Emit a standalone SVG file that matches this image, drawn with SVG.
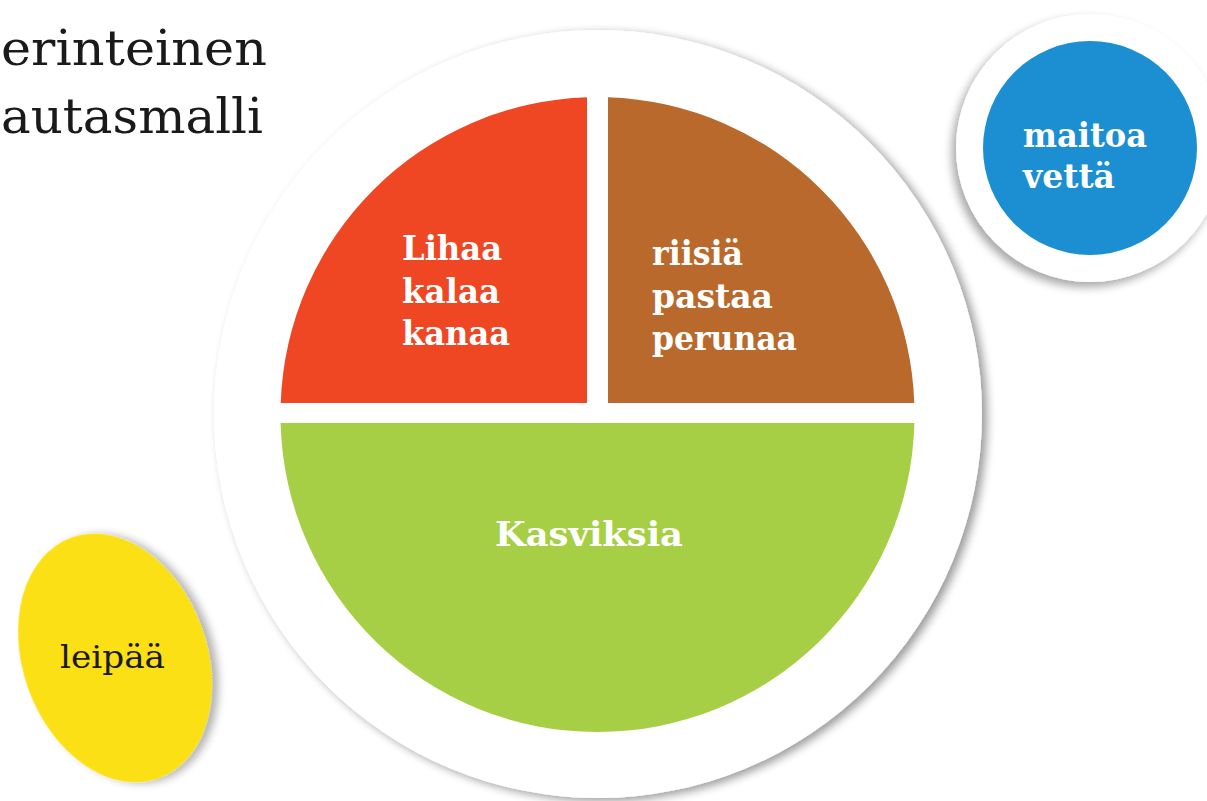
<svg xmlns="http://www.w3.org/2000/svg" width="1207" height="801" viewBox="0 0 1207 801">
  <defs>
    <filter id="shPlate" x="-10%" y="-10%" width="120%" height="120%">
      <feGaussianBlur in="SourceAlpha" stdDeviation="5"/>
      <feOffset dx="5" dy="3" result="b"/>
      <feComponentTransfer><feFuncA type="linear" slope="0.4"/></feComponentTransfer>
      <feMerge><feMergeNode/><feMergeNode in="SourceGraphic"/></feMerge>
    </filter>
    <filter id="shCup" x="-20%" y="-20%" width="140%" height="140%">
      <feGaussianBlur in="SourceAlpha" stdDeviation="5"/>
      <feOffset dx="-4" dy="5" result="b"/>
      <feComponentTransfer><feFuncA type="linear" slope="0.35"/></feComponentTransfer>
      <feMerge><feMergeNode/><feMergeNode in="SourceGraphic"/></feMerge>
    </filter>
    <filter id="shBread" x="-20%" y="-20%" width="140%" height="140%">
      <feGaussianBlur in="SourceAlpha" stdDeviation="4"/>
      <feOffset dx="6" dy="3" result="b"/>
      <feComponentTransfer><feFuncA type="linear" slope="0.3"/></feComponentTransfer>
      <feMerge><feMergeNode/><feMergeNode in="SourceGraphic"/></feMerge>
    </filter>
  </defs>
  <style>
    .title { font-family: "DejaVu Serif", "Liberation Serif", serif; font-size: 49px; fill: #1a1a1a; }
    .lbl { font-family: "DejaVu Serif", "Liberation Serif", serif; font-weight: bold; font-size: 33px; fill: #ffffff; }
    .dark { font-family: "DejaVu Serif", "Liberation Serif", serif; font-size: 31px; fill: #1a1a1a; }
  </style>
  <rect width="1207" height="801" fill="#ffffff"/>

  <g id="title">
    <text class="title" x="1" y="65" textLength="266" lengthAdjust="spacingAndGlyphs">erinteinen</text>
    <text class="title" x="1" y="133" textLength="262" lengthAdjust="spacingAndGlyphs">autasmalli</text>
  </g>

  <g id="plate">
    <circle cx="598" cy="414" r="384" fill="#ffffff" filter="url(#shPlate)"/>
  </g>

  <g id="meat">
    <path d="M280.7,403 A317,317 0 0 1 587,97.2 L587,403 Z" fill="#EF4623"/>
    <text class="lbl" x="402" y="260" textLength="100" lengthAdjust="spacingAndGlyphs">Lihaa</text>
    <text class="lbl" x="402" y="303" textLength="98" lengthAdjust="spacingAndGlyphs">kalaa</text>
    <text class="lbl" x="402" y="345" textLength="108" lengthAdjust="spacingAndGlyphs">kanaa</text>
  </g>

  <g id="carbs">
    <path d="M608,97.2 A317,317 0 0 1 914.3,403 L608,403 Z" fill="#B9692B"/>
    <text class="lbl" x="652" y="265" textLength="91" lengthAdjust="spacingAndGlyphs">riisiä</text>
    <text class="lbl" x="652" y="308" textLength="121" lengthAdjust="spacingAndGlyphs">pastaa</text>
    <text class="lbl" x="652" y="350" textLength="145" lengthAdjust="spacingAndGlyphs">perunaa</text>
  </g>

  <g id="vegetables">
    <path d="M280.6,423 L914.4,423 A317,317 0 0 1 280.6,423 Z" fill="#A6CF46"/>
    <text class="lbl" x="495" y="546" textLength="188" lengthAdjust="spacingAndGlyphs">Kasviksia</text>
  </g>

  <g id="drink">
    <circle cx="1090" cy="148" r="134" fill="#ffffff" filter="url(#shCup)"/>
    <circle cx="1090" cy="148" r="107" fill="#1C8FD2"/>
    <text class="lbl" x="1023" y="147" textLength="124" lengthAdjust="spacingAndGlyphs">maitoa</text>
    <text class="lbl" x="1023" y="188" textLength="92" lengthAdjust="spacingAndGlyphs">vettä</text>
  </g>

  <g id="bread">
    <ellipse cx="115" cy="658" rx="92" ry="128" transform="rotate(-20 115 658)" fill="#FCE012" filter="url(#shBread)"/>
    <text class="dark" x="60" y="668" textLength="105" lengthAdjust="spacingAndGlyphs">leipää</text>
  </g>

  <g id="connectors"/>
</svg>
